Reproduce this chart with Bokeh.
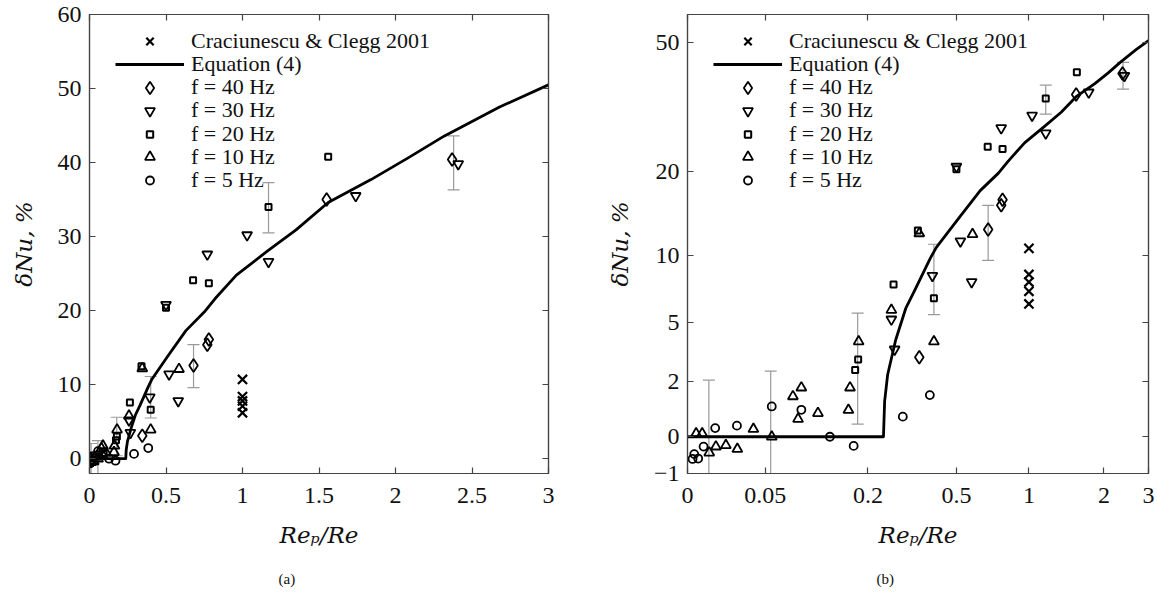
from bokeh.plotting import figure
from bokeh.layouts import row
from bokeh.models import (FixedTicker, LinearAxis, LogAxis, Legend, LegendItem, Title)
from bokeh.embed import file_html
from bokeh.resources import INLINE

# ---------------- data ----------------
crac_x = [1.0, 1.0, 1.0, 1.0, 1.0]
crac_y = [10.7, 8.4, 7.8, 7.1, 6.2]

eq_x = [0.0, 0.237, 0.240, 0.248, 0.27, 0.30, 0.33, 0.386, 0.41, 0.51, 0.63, 0.75, 0.82,
        0.96, 1.16, 1.35, 1.56, 1.84, 2.08, 2.32, 2.68, 3.0]
eq_y = [0.0, 0.0, 1.2, 2.3, 4.0, 5.9, 7.2, 9.8, 10.8, 13.8, 17.3, 19.8, 21.6,
        24.8, 28.0, 30.9, 34.6, 37.7, 40.6, 43.6, 47.5, 50.5]

f40_x = [0.345, 0.68, 0.77, 0.78, 1.55, 2.37]
f40_y = [3.1, 12.6, 15.4, 16.1, 35.0, 40.4]

f30_x = [0.258, 0.267, 0.394, 0.50, 0.52, 0.58, 0.77, 1.03, 1.17, 1.74, 2.41]
f30_y = [5.2, 3.5, 8.3, 20.8, 11.4, 7.8, 27.6, 30.2, 26.6, 35.5, 39.8]

f20_x = [0.173, 0.179, 0.264, 0.34, 0.40, 0.50, 0.677, 0.78, 1.17, 1.56]
f20_y = [2.5, 3.0, 7.6, 12.5, 6.6, 20.4, 24.1, 23.7, 34.0, 40.8]

f10_x = [0.004, 0.007, 0.0107, 0.0144, 0.0204, 0.028, 0.040, 0.056, 0.078, 0.084,
         0.088, 0.11, 0.16, 0.163, 0.18, 0.258, 0.345, 0.40, 0.585]
f10_y = [0.1, 0.1, -0.46, -0.29, -0.25, -0.36, 0.24, 0.0, 1.39, 0.57,
         1.74, 0.77, 0.88, 1.74, 3.92, 5.8, 12.2, 3.92, 12.1]

f5_x = [0.0023, 0.0031, 0.005, 0.0077, 0.014, 0.0277, 0.056, 0.088, 0.128, 0.17, 0.291, 0.384]
f5_y = [-0.63, -0.5, -0.62, -0.29, 0.27, 0.35, 1.01, 0.89, 0.0, -0.27, 0.65, 1.44]

err_x = [0.0105, 0.055, 0.178, 0.40, 0.68, 1.17, 2.38]
err_lo = [-2.5, -2.5, 0.4, 5.5, 9.6, 30.5, 36.3]
err_hi = [2.05, 2.45, 5.6, 11.1, 15.4, 37.3, 43.6]

a_xticks = [0, 0.5, 1, 1.5, 2, 2.5, 3]
a_yticks = [0, 10, 20, 30, 40, 50, 60]
b_xticks = [0, 0.05, 0.2, 0.5, 1, 2, 3]
b_xlabels = ["0", "0.05", "0.2", "0.5", "1", "2", "3"]
b_yticks = [-1, 0, 2, 5, 10, 20, 50]
b_ylabels = ["\u22121", "0", "2", "5", "10", "20", "50"]

legend_labels = ["Craciunescu & Clegg 2001", "Equation (4)", "f = 40 Hz", "f = 30 Hz",
                 "f = 20 Hz", "f = 10 Hz", "f = 5 Hz"]

SERIF = "Liberation Serif"
AX = "#444444"

# legend layout: row centres (px below canvas top) and glyph box heights
ROW_TOP = 40.7
ROW_STEP = 23.2
LEG_GLYPH_H = [26, 26, 31, 25, 16, 25, 20]
FRAME_BOTTOM = 473
TEXT_H = 26


def style_axis(ax, ticker, overrides=None, labels=True, standoff=8):
    ax.ticker = ticker
    ax.axis_line_color = AX
    ax.axis_line_width = 1.2
    ax.major_tick_line_color = AX
    ax.major_tick_line_width = 1.2
    ax.major_tick_in = 6
    ax.major_tick_out = 0
    ax.minor_tick_line_color = None
    if labels:
        ax.major_label_text_font = SERIF
        ax.major_label_text_font_size = "24px"
        ax.major_label_text_color = "#111111"
        ax.major_label_standoff = standoff
        if overrides:
            ax.major_label_overrides = overrides
    else:
        ax.major_label_text_font_size = "2px"
        ax.major_label_text_color = None
        ax.major_label_standoff = 0


def panel(logs):
    sx = 0.05 if logs else 0.0
    sy = 5.0 if logs else 0.0

    def X(a):
        return [v + sx for v in a]

    def Y(a):
        return [v + sy for v in a]

    common = dict(frame_height=459, min_border_top=14, min_border_bottom=122,
                  output_backend="svg", toolbar_location=None)
    if logs:
        p = figure(frame_width=461, min_border_left=97, min_border_right=9,
                   x_axis_type="log", y_axis_type="log",
                   x_range=(0.05, 3.05), y_range=(4.0, 65.0), **common)
        xt = X(b_xticks)
        yt = Y(b_yticks)
        xo = {t: l for t, l in zip(xt, b_xlabels)}
        yo = {t: l for t, l in zip(yt, b_ylabels)}
        AxisCls = LogAxis
    else:
        p = figure(frame_width=459, min_border_left=89, min_border_right=42,
                   x_range=(0, 3), y_range=(-2, 60), **common)
        xt = list(a_xticks)
        yt = list(a_yticks)
        xo = {t: ("%g" % t) for t in xt}
        yo = {t: ("%g" % t) for t in yt}
        AxisCls = LinearAxis

    p.grid.visible = False
    p.outline_line_color = AX
    p.outline_line_width = 1.2
    p.background_fill_color = "white"
    p.border_fill_color = "white"

    style_axis(p.xaxis[0], FixedTicker(ticks=xt), xo, standoff=14)
    style_axis(p.yaxis[0], FixedTicker(ticks=yt), yo, standoff=8)
    for ax in (p.xaxis[0], p.yaxis[0]):
        ax.axis_label_text_font = "DejaVu Serif"
        ax.axis_label_text_font_style = "italic"
        ax.axis_label_text_font_size = "23px"
        ax.axis_label_text_color = "#111111"
    p.xaxis[0].axis_label = "Re\u209a/Re"
    p.yaxis[0].axis_label = "\u03b4Nu, %"
    p.xaxis[0].axis_label_standoff = 16
    p.yaxis[0].axis_label_standoff = 18

    top = AxisCls()
    style_axis(top, FixedTicker(ticks=xt), labels=False)
    p.add_layout(top, "above")
    right = AxisCls()
    style_axis(right, FixedTicker(ticks=yt), labels=False)
    p.add_layout(right, "right")

    # error bars
    p.segment(x0=X(err_x), y0=Y(err_lo), x1=X(err_x), y1=Y(err_hi),
              line_color="#9a9a9a", line_width=1.2)
    p.scatter(x=X(err_x), y=Y(err_lo), marker="dash", size=12, line_color="#9a9a9a", line_width=1.2)
    p.scatter(x=X(err_x), y=Y(err_hi), marker="dash", size=12, line_color="#9a9a9a", line_width=1.2)

    r_eq = p.line(X(eq_x), Y(eq_y), line_color="black", line_width=2.8, line_join="round")

    mk = dict(fill_color=None, line_color="black")
    r_c = p.scatter(X(crac_x), Y(crac_y), marker="x", size=13, line_width=2.2, **mk)
    r40 = p.scatter(X(f40_x), Y(f40_y), marker="diamond", size=13, line_width=1.8, **mk)
    r30 = p.scatter(X(f30_x), Y(f30_y), marker="inverted_triangle", size=10, line_width=1.8, **mk)
    r20 = p.scatter(X(f20_x), Y(f20_y), marker="square", size=6, line_width=2.0, **mk)
    r10 = p.scatter(X(f10_x), Y(f10_y), marker="triangle", size=10, line_width=1.8, **mk)
    r5 = p.scatter(X(f5_x), Y(f5_y), marker="circle", size=8, line_width=1.8, **mk)

    rends = [r_c, r_eq, r40, r30, r20, r10, r5]
    # one legend box per row, so that rows sit 23 px apart and each
    # marker keeps its own size
    for i, (lab, r, gh) in enumerate(zip(legend_labels, rends, LEG_GLYPH_H)):
        centre = ROW_TOP + ROW_STEP * i
        h = max(gh, TEXT_H)
        leg = Legend(items=[LegendItem(label=lab, renderers=[r])],
                     location=(26, FRAME_BOTTOM - centre - h / 2.0),
                     padding=0, margin=0, spacing=0,
                     glyph_width=69, glyph_height=gh, label_height=20, label_standoff=7,
                     label_text_font=SERIF, label_text_font_size="22px",
                     label_text_color="#111111",
                     background_fill_alpha=0, border_line_color=None)
        p.add_layout(leg)

    p.add_layout(Title(text="(b)" if logs else "(a)", align="left", offset=189,
                       text_font=SERIF, text_font_size="15px", text_font_style="normal",
                       text_color="#111111", standoff=36), "below")
    return p


pa = panel(False)
pb = panel(True)
layout = row(pa, pb)
open("out.html", "w").write(file_html(layout, INLINE))
